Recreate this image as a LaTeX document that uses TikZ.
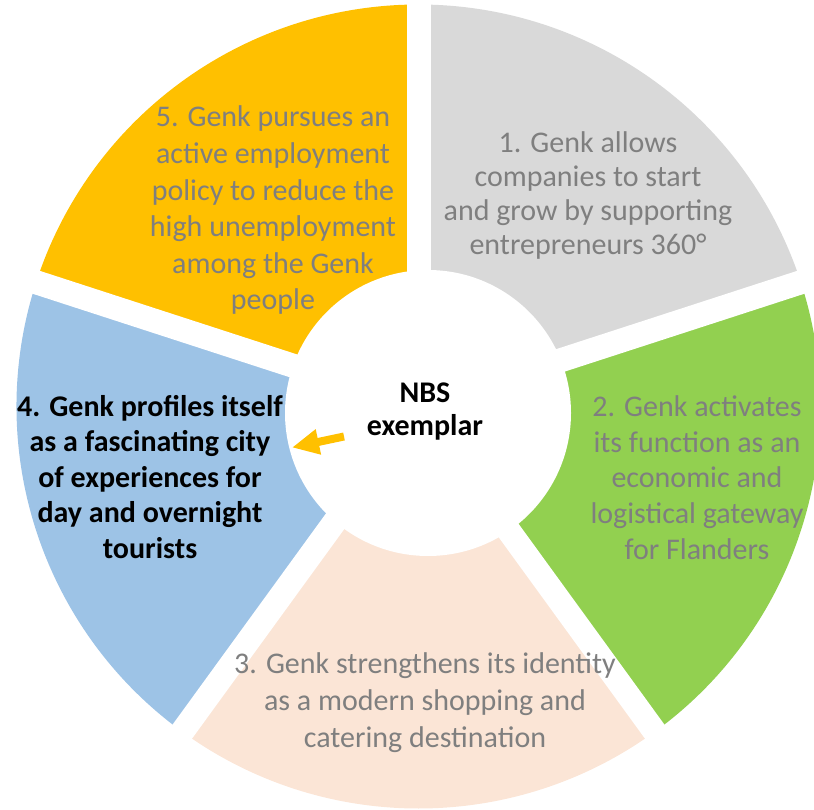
\documentclass[tikz,border=0pt]{standalone}
\usepackage{fontspec}
\setmainfont{Carlito}
\usetikzlibrary{arrows.meta,calc}
\definecolor{cyellow}{HTML}{FFC000}
\definecolor{cgray}{HTML}{D9D9D9}
\definecolor{cgreen}{HTML}{92D050}
\definecolor{cpeach}{HTML}{FBE5D6}
\definecolor{cblue}{HTML}{9DC3E6}
\definecolor{txtgray}{HTML}{7F7F7F}
\definecolor{carrow}{HTML}{FFC000}
\tikzset{
  segtext/.style={font=\fontsize{30}{#1}\selectfont, text=txtgray, align=center, inner sep=0pt},
  boldtext/.style={font=\fontsize{30}{#1}\selectfont\bfseries, text=black, align=center, inner sep=0pt},
  gapstrip/.style={fill=white}
}
\newcommand{\ringR}{402pt}
\begin{document}
\begin{tikzpicture}
\useasboundingbox (0pt,0pt) rectangle (814pt,-810pt);
\coordinate (C) at (418.5pt,-406.5pt);
% sectors
\fill[cyellow] (C) -- ($(C)+(90:\ringR)$) arc[start angle=90, end angle=162, radius=\ringR] -- cycle;
\fill[cgray] (C) -- ($(C)+(18:\ringR)$) arc[start angle=18, end angle=90, radius=\ringR] -- cycle;
\fill[cgreen] (C) -- ($(C)+(-54:\ringR)$) arc[start angle=-54, end angle=18, radius=\ringR] -- cycle;
\fill[cpeach] (C) -- ($(C)+(-126:\ringR)$) arc[start angle=-126, end angle=-54, radius=\ringR] -- cycle;
\fill[cblue] (C) -- ($(C)+(162:\ringR)$) arc[start angle=162, end angle=234, radius=\ringR] -- cycle;
% gaps
\foreach \a in {90,18,-54,-126,162}{
  \begin{scope}[shift={(C)}, rotate=\a]
    \fill[gapstrip] (0pt,-12pt) rectangle (440pt,12pt);
  \end{scope}
}
% centre circle
\fill[white] (428pt,-413pt) circle[radius=143pt];
% texts
\node[segtext=36.6] (t5) at (273pt,-210.5pt) {5. Genk pursues an\\active employment\\policy to reduce the\\high unemployment\\among the Genk\\people};
\node[segtext=34.3] (t1) at (588pt,-195.5pt) {1. Genk allows\\companies to start\\and grow by supporting\\entrepreneurs 360°};
\node[segtext=35.75] (t2) at (697pt,-477.5pt) {2. Genk activates\\its function as an\\economic and\\logistical gateway\\for Flanders};
\node[segtext=37] (t3) at (425pt,-703pt) {3. Genk strengthens its identity\\as a modern shopping and\\catering destination};
\node[boldtext=35.5] (t4) at (150pt,-477pt) {4. Genk profiles itself\\as a fascinating city\\of experiences for\\day and overnight\\tourists};
\node[boldtext=33] (nbs) at (425pt,-411.5pt) {NBS\\exemplar};
% arrow
\coordinate (arrS) at (344pt,-436.5pt);
\coordinate (arrE) at (292pt,-447.5pt);
\draw[carrow, line width=8pt, -{Triangle[length=27pt,width=24pt]}] (arrS) -- (arrE);
\end{tikzpicture}
\end{document}
